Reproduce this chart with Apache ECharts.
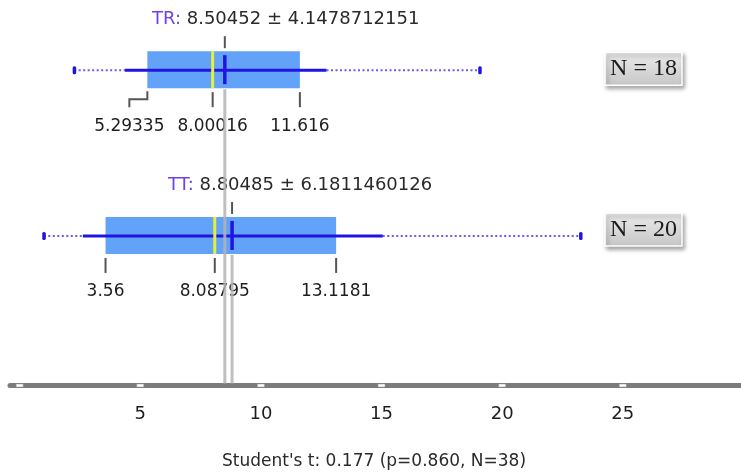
<!DOCTYPE html>
<html>
<head>
<meta charset="utf-8">
<script src="https://cdn.jsdelivr.net/npm/echarts@6/dist/echarts.min.js"></script>
<style>
html,body{margin:0;padding:0;background:#fff;}
#chart{width:741px;height:474px;}
</style>
</head>
<body>
<div id="chart"></div>
<script>
// ---- data ----
const categories   = ['TR', 'TT'];
const means        = [8.50452, 8.80485];
const sds          = [4.1478712151, 6.1811460126];
const q1Values     = [5.29335, 3.56];
const medians      = [8.00016, 8.08795];
const q3Values     = [11.616, 13.1181];
const whiskerLow   = [4.36, 2.62];
const whiskerHigh  = [12.72, 15.05];
const rangeLow     = [2.26, 1.0];
const rangeHigh    = [19.07, 23.25];
const nCounts      = [18, 20];
const tickValues   = [0, 5, 10, 15, 20, 25];
const tickLabels   = [5, 10, 15, 20, 25];
const testText     = "Student's t: 0.177 (p=0.860, N=38)";

// ---- layout (positions only) ----
const rowY = [81.8, 38.8];              // vertical position of each group on hidden y axis (0..100)
const titleLeft = [152, 168];           // px
const q1LabelShift = [-18, 0];          // px, bent leader for the first group
const nBoxOffset = [-18, -23];          // px
const FONT = 'DejaVu Sans';

const chart = echarts.init(document.getElementById('chart'), null, {renderer: 'canvas'});

const groupData = categories.map((c, i) => [
  rangeLow[i], whiskerLow[i], q1Values[i], medians[i], means[i], q3Values[i], whiskerHigh[i], rangeHigh[i], rowY[i]
]);

function renderGroup(params, api) {
  const i = params.dataIndex;
  const yv = api.value(8);
  const X = k => api.coord([api.value(k), yv])[0];
  const cy = api.coord([0, yv])[1];
  const xDl = X(0), xWl = X(1), xQ1 = X(2), xMed = X(3), xMean = X(4), xQ3 = X(5), xWh = X(6), xDh = X(7);
  const top = cy - 19, bot = cy + 18;
  const dark = '#2014e0';
  const ch = [];
  ch.push({type: 'line', shape: {x1: xDl, y1: cy, x2: xWl, y2: cy}, style: {stroke: '#6a5cf0', lineWidth: 2, lineDash: [2, 2.5]}});
  ch.push({type: 'line', shape: {x1: xWh, y1: cy, x2: xDh, y2: cy}, style: {stroke: '#6a5cf0', lineWidth: 2, lineDash: [2, 2.5]}});
  [xDl, xDh].forEach(x => ch.push({type: 'rect', shape: {x: x - 1.5, y: cy - 4, width: 3.5, height: 8, r: 1.5}, style: {fill: dark}}));
  ch.push({type: 'rect', shape: {x: xQ1, y: top, width: xQ3 - xQ1, height: bot - top}, style: {fill: '#62a2f8'}});
  ch.push({type: 'line', shape: {x1: xWl, y1: cy, x2: xWh, y2: cy}, style: {stroke: dark, lineWidth: 3}});
  ch.push({type: 'line', shape: {x1: xMed, y1: top, x2: xMed, y2: bot}, style: {stroke: '#e6f23a', lineWidth: 3}});
  ch.push({type: 'line', shape: {x1: xMean, y1: cy - 15, x2: xMean, y2: cy + 14}, style: {stroke: dark, lineWidth: 3.5}});
  ch.push({type: 'line', shape: {x1: xMean, y1: cy - 34, x2: xMean, y2: cy - 22}, style: {stroke: '#555', lineWidth: 2}});
  const sh = q1LabelShift[i];
  if (sh !== 0) {
    ch.push({type: 'polyline', shape: {points: [[xQ1, cy + 21], [xQ1, cy + 29], [xQ1 + sh, cy + 29], [xQ1 + sh, cy + 37]]}, style: {stroke: '#555', lineWidth: 2, fill: null}});
  } else {
    ch.push({type: 'line', shape: {x1: xQ1, y1: cy + 22, x2: xQ1, y2: cy + 37}, style: {stroke: '#555', lineWidth: 2}});
  }
  [xMed, xQ3].forEach(x => ch.push({type: 'line', shape: {x1: x, y1: cy + 22, x2: x, y2: cy + 37}, style: {stroke: '#555', lineWidth: 2}}));
  const lbl = (x, t) => ({type: 'text', x: x, y: cy + 56, style: {text: t, fill: '#1e1e1e', font: '17px "' + FONT + '"', align: 'center', verticalAlign: 'middle'}});
  ch.push(lbl(xQ1 + sh, String(q1Values[i])));
  ch.push(lbl(xMed, String(medians[i])));
  ch.push(lbl(xQ3, String(q3Values[i])));
  ch.push({type: 'text', x: titleLeft[i], y: cy - 51, style: {
    text: '{c|' + categories[i] + ':} {v|' + means[i] + ' ± ' + sds[i] + '}',
    align: 'left', verticalAlign: 'middle',
    rich: {
      c: {fill: '#7040e8', font: '18px "' + FONT + '"'},
      v: {fill: '#2a2a2a', font: '18px "' + FONT + '"'}
    },
    font: '18px "' + FONT + '"'
  }});
  ch.push({type: 'group', x: 605, y: cy + nBoxOffset[i], children: [
    {type: 'rect', shape: {x: 0, y: 0, width: 77, height: 33}, style: {
      fill: new echarts.graphic.LinearGradient(0, 0, 0, 1, [{offset: 0, color: '#ececec'}, {offset: 1, color: '#c6c6c6'}]),
      stroke: '#ffffff', lineWidth: 1.5, shadowBlur: 4, shadowOffsetX: 2, shadowOffsetY: 3, shadowColor: 'rgba(0,0,0,0.35)'}},
    {type: 'text', x: 38.5, y: 17, style: {text: 'N = ' + nCounts[i], fill: '#1a1a1a', font: '24px "Liberation Serif"', align: 'center', verticalAlign: 'middle'}}
  ]});
  return {type: 'group', children: ch};
}

function renderMeanLine(params, api) {
  const p = api.coord([api.value(0), api.value(1)]);
  const axisY = api.coord([api.value(0), 0])[1];
  return {type: 'line', shape: {x1: p[0], y1: p[1] + 19, x2: p[0], y2: axisY - 2}, style: {stroke: 'rgba(180,180,180,0.85)', lineWidth: 3}};
}

chart.setOption({
  animation: false,
  grid: {left: 10, right: 0, top: 0, bottom: 88.5},
  xAxis: {
    type: 'value', min: -0.4, max: 29.9,
    splitLine: {show: false},
    axisLine: {show: true, lineStyle: {color: '#7c7c7c', width: 5, cap: 'round'}},
    axisTick: {show: false},
    axisLabel: {customValues: tickLabels, color: '#1e1e1e', fontSize: 18, fontFamily: FONT, margin: 20}
  },
  yAxis: {type: 'value', min: 0, max: 100, show: false},
  graphic: [{
    type: 'text', x: 374, y: 462,
    style: {text: testText, fill: '#2a2a2a', font: '17px "' + FONT + '"', align: 'center', verticalAlign: 'middle'}
  }],
  series: [
    {type: 'custom', name: 'groups', renderItem: renderGroup, data: groupData, z: 2,
     encode: {x: [0, 1, 2, 3, 4, 5, 6, 7], y: 8}, silent: true},
    {type: 'custom', name: 'meanLines', renderItem: renderMeanLine, z: 3, silent: true,
     data: categories.map((c, i) => [means[i], rowY[i]])},
    {type: 'scatter', name: 'ticks', symbol: 'rect', symbolSize: [7, 3], z: 5, silent: true,
     itemStyle: {color: '#fff', borderColor: '#999', borderWidth: 0.5, opacity: 1},
     data: tickValues.map(v => [v, 0]), clip: false}
  ]
});
</script>
</body>
</html>
